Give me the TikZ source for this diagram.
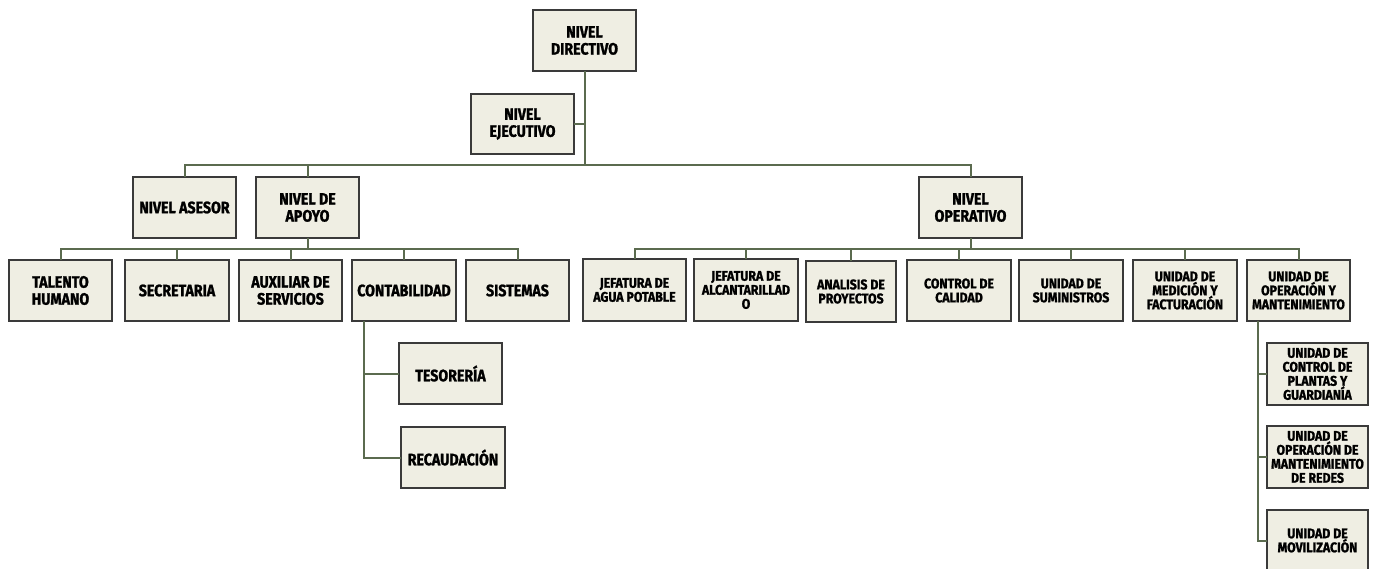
\documentclass[tikz,border=0pt]{standalone}
\usepackage{fontspec}
\newfontfamily\bigf{Fira Sans}[FakeStretch=0.86,FakeBold=1.4]
\newfontfamily\smallf{Fira Sans}[FakeStretch=0.88,FakeBold=1.3]
\definecolor{boxfill}{HTML}{EFEEE3}
\definecolor{boxline}{HTML}{3A3A3A}
\definecolor{conn}{HTML}{5B6B4F}
\tikzset{
  orgbox/.style={draw=boxline, line width=1.2pt, fill=boxfill, inner sep=0pt, outer sep=0pt,
    align=center, font=\bigf\bfseries\fontsize{16.5}{17}\selectfont},
  smallbox/.style={orgbox, font=\smallf\bfseries\fontsize{14}{14}\selectfont},
  link/.style={draw=conn, line width=2pt}
}
\newcommand{\bx}[7][orgbox]{%
  \node[#1, minimum width={#5-#3}, minimum height={#6-#4}] (#2) at ({(#3+#5)/2},{(#4+#6)/2}) {#7};}
\begin{document}
\begin{tikzpicture}[x=1pt,y=-1pt]
\useasboundingbox (0,0) rectangle (1375,568);
\clip (0,0) rectangle (1375,568);
\coordinate (bus1) at (584.5,165);
\coordinate (bus2) at (307.5,248.5);
\coordinate (bus3) at (970.5,249);
\coordinate (cv) at (364,0);
\coordinate (ov) at (1258,0);
% boxes
\bx{dir}{533}{10}{636}{71}{NIVEL\\DIRECTIVO}
\bx{eje}{471}{94}{574}{154}{NIVEL\\EJECUTIVO}
\bx{ase}{133}{177}{236}{238}{NIVEL ASESOR}
\bx{apo}{256}{177}{359}{238}{NIVEL DE\\APOYO}
\bx{ope}{919}{177}{1022}{238}{NIVEL\\OPERATIVO}
\bx{tal}{9}{260}{112}{321}{TALENTO\\HUMANO}
\bx{sec}{125}{260}{229}{321}{SECRETARIA}
\bx{aux}{239}{260}{342}{321}{AUXILIAR DE\\SERVICIOS}
\bx{con}{352}{260}{456}{321}{CONTABILIDAD}
\bx{sis}{466}{260}{569}{321}{SISTEMAS}
\bx{tes}{399}{343}{502}{404}{TESORERÍA}
\bx{rec}{401}{427}{505}{488}{RECAUDACIÓN}
\bx[smallbox]{jag}{583}{259}{686}{321}{JEFATURA DE\\AGUA POTABLE}
\bx[smallbox]{jal}{694}{259}{798}{321}{JEFATURA DE\\ALCANTARILLAD\\O}
\bx[smallbox]{ana}{806}{261}{896}{322}{ANALISIS DE\\PROYECTOS}
\bx[smallbox]{cal}{907}{260}{1011}{321}{CONTROL DE\\CALIDAD}
\bx[smallbox]{sum}{1019}{260}{1123}{321}{UNIDAD DE\\SUMINISTROS}
\bx[smallbox]{med}{1133}{260}{1237}{321}{UNIDAD DE\\MEDICIÓN Y\\FACTURACIÓN}
\bx[smallbox]{opm}{1247}{260}{1350}{321}{UNIDAD DE\\OPERACIÓN Y\\MANTENIMIENTO}
\bx[smallbox]{pla}{1267}{343}{1368}{405}{UNIDAD DE\\CONTROL DE\\PLANTAS Y\\GUARDIANÍA}
\bx[smallbox]{red}{1267}{426}{1368}{488}{UNIDAD DE\\OPERACIÓN DE\\MANTENIMIENTO\\DE REDES}
\bx[smallbox]{mov}{1267}{510}{1368}{571}{UNIDAD DE\\MOVILIZACIÓN}
% connectors
\draw[link] (dir.south) -- (bus1);
\draw[link] (eje.east) -- (eje.east -| bus1);
\draw[link] (ase.north) |- (bus1) -| (ope.north);
\draw[link] (apo.north) -- (apo.north |- bus1);
\draw[link] (apo.south) -- (bus2);
\draw[link] (tal.north) |- (bus2) -| (sis.north);
\draw[link] (sec.north) -- (sec.north |- bus2);
\draw[link] (aux.north) -- (aux.north |- bus2);
\draw[link] (con.north) -- (con.north |- bus2);
\draw[link] (ope.south) -- (bus3);
\draw[link] (jag.north) |- (bus3) -| (opm.north);
\draw[link] (jal.north) -- (jal.north |- bus3);
\draw[link] (ana.north) -- (ana.north |- bus3);
\draw[link] (cal.north) -- (cal.north |- bus3);
\draw[link] (sum.north) -- (sum.north |- bus3);
\draw[link] (med.north) -- (med.north |- bus3);
\draw[link] (con.south -| cv) |- (rec.west);
\draw[link] (cv |- tes.west) -- (tes.west);
\draw[link] (opm.south -| ov) |- (mov.west);
\draw[link] (ov |- pla.west) -- (pla.west);
\draw[link] (ov |- red.west) -- (red.west);
\end{tikzpicture}
\end{document}
